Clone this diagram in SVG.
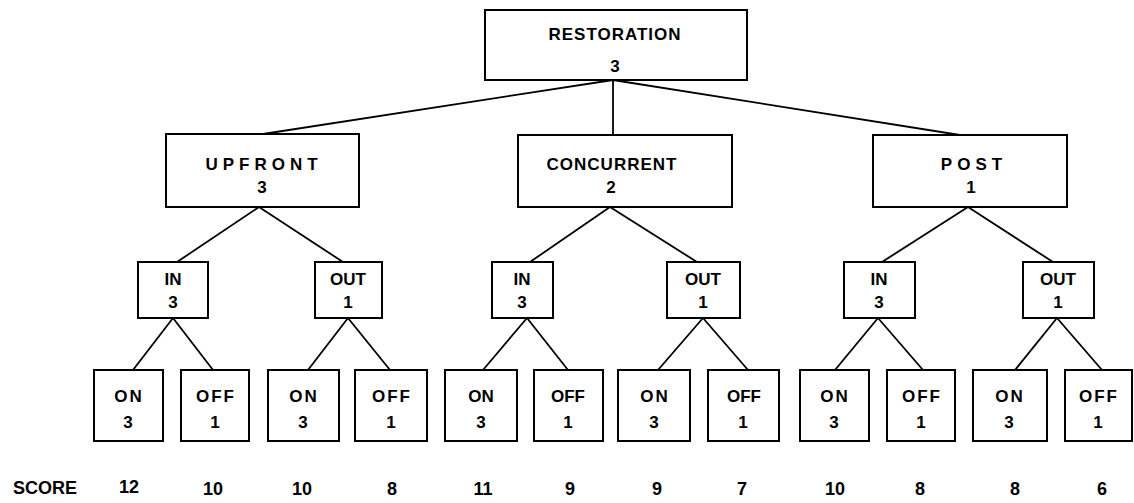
<svg xmlns="http://www.w3.org/2000/svg" width="1134" height="503" viewBox="0 0 1134 503">
<style>
rect{fill:#fff;stroke:#000;stroke-width:2}
line{stroke:#000;stroke-width:1.8}
text{font-family:"Liberation Sans",Arial,sans-serif;font-weight:bold;font-size:17px;text-anchor:middle;fill:#000}
.s{font-size:18px}
</style>
<rect x="0" y="0" width="1134" height="503" style="fill:#fff;stroke:none"/>
<g id="connectors">
<line x1="613" y1="80" x2="263" y2="134"/>
<line x1="613" y1="80" x2="613" y2="135"/>
<line x1="613" y1="80" x2="960" y2="135"/>
<line x1="259" y1="207" x2="177" y2="262"/>
<line x1="259" y1="207" x2="343" y2="262"/>
<line x1="610" y1="207" x2="530" y2="262"/>
<line x1="610" y1="207" x2="697" y2="262"/>
<line x1="968" y1="207" x2="882" y2="262"/>
<line x1="968" y1="207" x2="1053" y2="262"/>
<line x1="173" y1="318" x2="133" y2="370"/>
<line x1="173" y1="318" x2="213" y2="370"/>
<line x1="348" y1="318" x2="308" y2="370"/>
<line x1="348" y1="318" x2="390" y2="370"/>
<line x1="527" y1="318" x2="483" y2="370"/>
<line x1="527" y1="318" x2="568" y2="370"/>
<line x1="703" y1="318" x2="658" y2="370"/>
<line x1="703" y1="318" x2="748" y2="370"/>
<line x1="878" y1="318" x2="835" y2="370"/>
<line x1="878" y1="318" x2="923" y2="370"/>
<line x1="1057" y1="318" x2="1015" y2="370"/>
<line x1="1057" y1="318" x2="1102" y2="370"/>
</g>
<g id="restoration"><rect x="485" y="10" width="262" height="70"/><text x="615" y="40" letter-spacing="1">RESTORATION</text><text x="615" y="72">3</text></g>
<g id="upfront"><rect x="166" y="134" width="193" height="73"/><text x="264" y="170" letter-spacing="5">UPFRONT</text><text x="262" y="193">3</text></g>
<g id="concurrent"><rect x="518" y="135" width="214" height="72"/><text x="612" y="170" letter-spacing="1">CONCURRENT</text><text x="611" y="193">2</text></g>
<g id="post"><rect x="873" y="135" width="194" height="72"/><text x="974" y="170" letter-spacing="5">POST</text><text x="971" y="193">1</text></g>
<g id="u-in"><rect x="138" y="262" width="70" height="56"/><text x="173" y="285">IN</text><text x="173" y="308">3</text></g>
<g id="u-out"><rect x="315" y="262" width="67" height="56"/><text x="348" y="285">OUT</text><text x="348" y="308">1</text></g>
<g id="c-in"><rect x="492" y="262" width="61" height="56"/><text x="522" y="285">IN</text><text x="522" y="308">3</text></g>
<g id="c-out"><rect x="667" y="262" width="73" height="56"/><text x="703" y="285">OUT</text><text x="703" y="308">1</text></g>
<g id="p-in"><rect x="844" y="262" width="71" height="56"/><text x="879" y="285">IN</text><text x="879" y="308">3</text></g>
<g id="p-out"><rect x="1023" y="262" width="71" height="56"/><text x="1058" y="285">OUT</text><text x="1058" y="308">1</text></g>
<g id="u-in-on"><rect x="94" y="370" width="69" height="71"/><text x="129" y="402" letter-spacing="2">ON</text><text x="128" y="428">3</text></g>
<g id="u-in-off"><rect x="181" y="370" width="68" height="71"/><text x="216" y="402" letter-spacing="2">OFF</text><text x="215" y="428">1</text></g>
<g id="u-out-on"><rect x="268" y="370" width="71" height="71"/><text x="304" y="402" letter-spacing="2">ON</text><text x="303" y="428">3</text></g>
<g id="u-out-off"><rect x="355" y="370" width="72" height="71"/><text x="392" y="402" letter-spacing="2">OFF</text><text x="391" y="428">1</text></g>
<g id="c-in-on"><rect x="445" y="370" width="72" height="71"/><text x="481" y="402">ON</text><text x="481" y="428">3</text></g>
<g id="c-in-off"><rect x="534" y="370" width="69" height="71"/><text x="568" y="402">OFF</text><text x="568" y="428">1</text></g>
<g id="c-out-on"><rect x="618" y="370" width="72" height="71"/><text x="655" y="402" letter-spacing="2">ON</text><text x="654" y="428">3</text></g>
<g id="c-out-off"><rect x="708" y="370" width="71" height="71"/><text x="744" y="402">OFF</text><text x="743" y="428">1</text></g>
<g id="p-in-on"><rect x="800" y="370" width="69" height="71"/><text x="835" y="402" letter-spacing="2">ON</text><text x="834" y="428">3</text></g>
<g id="p-in-off"><rect x="887" y="370" width="68" height="71"/><text x="922" y="402" letter-spacing="2">OFF</text><text x="921" y="428">1</text></g>
<g id="p-out-on"><rect x="973" y="370" width="74" height="71"/><text x="1010" y="402" letter-spacing="2">ON</text><text x="1009" y="428">3</text></g>
<g id="p-out-off"><rect x="1065" y="370" width="67" height="71"/><text x="1099" y="402" letter-spacing="2">OFF</text><text x="1098" y="428">1</text></g>
<g id="scores" class="s">
<text x="45" y="494" class="s">SCORE</text>
<text x="129" y="493" class="s">12</text>
<text x="213" y="495" class="s">10</text>
<text x="302" y="495" class="s">10</text>
<text x="392" y="495" class="s">8</text>
<text x="483" y="495" class="s">11</text>
<text x="570" y="495" class="s">9</text>
<text x="657" y="495" class="s">9</text>
<text x="742" y="495" class="s">7</text>
<text x="835" y="495" class="s">10</text>
<text x="920" y="495" class="s">8</text>
<text x="1015" y="495" class="s">8</text>
<text x="1102" y="495" class="s">6</text>
</g>
</svg>
